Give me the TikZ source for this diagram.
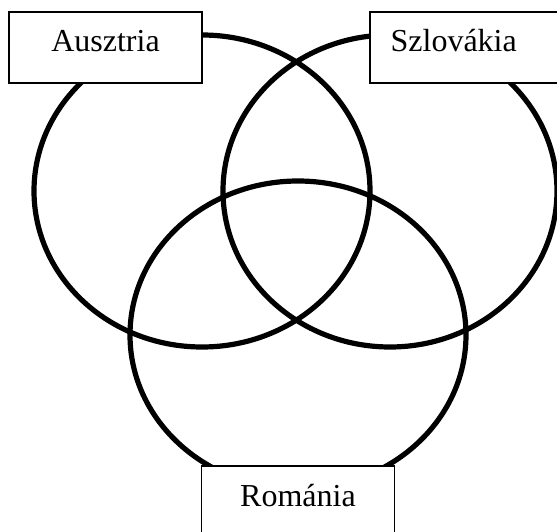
\documentclass[tikz,border=0pt]{standalone}
\usepackage{fontspec}
\setmainfont{Liberation Serif}
\usepackage{tikz}
\usetikzlibrary{positioning}

\begin{document}
\begin{tikzpicture}[
    x=1pt, y=-1pt,
    set/.style={line width=5.2pt, black},
    namebox/.style={rectangle, draw, fill=white, line width=1.2pt,
                    minimum width=193pt, minimum height=71pt, inner sep=0pt},
    setname/.style={anchor=base, inner sep=0pt,
                    font=\fontsize{32}{36}\selectfont}
]
\useasboundingbox (0,0) rectangle (557,532);

% Sets
\draw[set] (202,191) ellipse [x radius=168, y radius=156];
\draw[set] (390,191) ellipse [x radius=167, y radius=156];
\draw[set] (298,335) ellipse [x radius=168, y radius=154];

% Boxes
\node[namebox] (aus) at (105.5,47.5) {};
\node[namebox] (szl) at (466.5,47.5) {};
\node[namebox] (rom) at (298,501.5) {};

% Labels
\node[setname] (ausname) at ([yshift=-40pt]aus.north) {Ausztria};
\node[setname, anchor=base west] (szlname) at ([xshift=21pt, yshift=-40pt]szl.north west) {Szlovákia};
\node[setname] (romname) at ([yshift=-41pt]rom.north) {Románia};
\end{tikzpicture}
\end{document}
